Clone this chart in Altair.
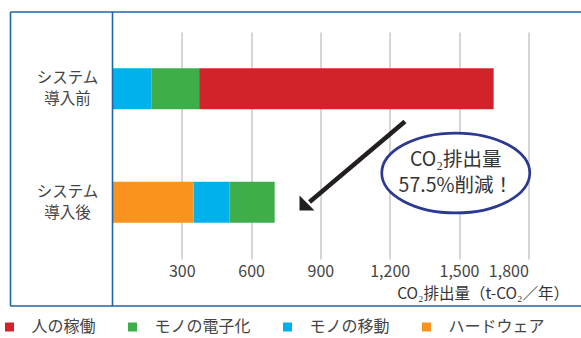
import altair as alt
import pandas as pd

categories = ["システム\n導入前", "システム\n導入後"]
components = ["人の稼働", "モノの電子化", "モノの移動", "ハードウェア"]
colors = ["#d2232a", "#3dae4a", "#00b1eb", "#f7931e"]
stack_rank = [3, 2, 1, 0]
before = [1275, 207, 168, 0]
after = [0, 195, 156, 351]
tick_values = [300, 600, 900, 1200, 1500, 1800]
callout_lines = ["CO₂排出量", "57.5%削減！"]

rows = []
for cat, vals in zip(categories, [before, after]):
    for comp, v, r in zip(components, vals, stack_rank):
        if v > 0:
            rows.append(dict(cat=cat, comp=comp, value=v, rank=r))
df = pd.DataFrame(rows)

FONT = "Noto Sans CJK JP"
W, H = 415.8, 227
FRAME = "#1f63a8"

x_scale = alt.Scale(domain=[0, 1800], nice=False, zero=True)
y_scale = alt.Scale(domain=categories, paddingInner=0.64, paddingOuter=0.32)

bars = alt.Chart(df).mark_bar().encode(
    x=alt.X(
        "value:Q", stack="zero", scale=x_scale,
        axis=alt.Axis(
            values=tick_values, format=",d", title="CO₂排出量（t-CO₂／年）",
            grid=True, gridColor="#c8c8c8", gridWidth=1.5,
            domain=False, ticks=False, tickSize=0,
            labelFontSize=16, labelColor="#444", labelFont=FONT,
            labelBaseline="middle", labelPadding=12,
            titleX=456, titleY=34, titleAlign="right", titleBaseline="middle",
            titleFontSize=15.5, titleFontWeight="normal", titleColor="#333", titleFont=FONT,
        ),
    ),
    y=alt.Y(
        "cat:N", scale=y_scale, title=None,
        axis=alt.Axis(
            labelExpr="split(datum.label, '\\n')", labelAlign="center",
            labelBaseline="middle", labelPadding=45.5, labelLineHeight=21,
            labelOffset=-10.5,
            labelFontSize=15.5, labelColor="#444", labelFont=FONT,
            domain=False, ticks=False, tickSize=0, grid=False,
        ),
    ),
    color=alt.Color(
        "comp:N", scale=alt.Scale(domain=components, range=colors),
        legend=alt.Legend(
            orient="none", legendX=-111, legendY=287, direction="horizontal",
            title=None, symbolType="square", symbolSize=81, symbolStrokeWidth=0,
            labelFontSize=16, labelColor="#444", labelFont=FONT, labelOffset=14,
            columnPadding=28, padding=0,
        ),
    ),
    order=alt.Order("rank:Q"),
)

one = pd.DataFrame({"a": [0]})

ellipse_path = ("M 1 0 C 1 0.2982 0.5523 0.54 0 0.54 C -0.5523 0.54 -1 0.2982 -1 0 "
                "C -1 -0.2982 -0.5523 -0.54 0 -0.54 C 0.5523 -0.54 1 -0.2982 1 0 Z")
ellipse = alt.Chart(pd.DataFrame({"x": [1486]})).mark_point(
    shape=ellipse_path, size=148 * 148, filled=True, fill="white", fillOpacity=1,
    stroke="#2b3990", strokeWidth=2.7, strokeOpacity=1, opacity=1,
).encode(x=alt.X("x:Q", scale=x_scale), y=alt.value(141))

text_df = pd.DataFrame({"x": [1486], "t": ["\n".join(callout_lines)], "py": [128.3]})
callout = alt.Chart(text_df).mark_text(
    font=FONT, fontSize=19.5, color="#333", align="center", baseline="middle",
    lineBreak="\n", lineHeight=26,
).encode(x=alt.X("x:Q", scale=x_scale), y=alt.Y("py:Q", scale=None), text="t:N")

shaft = alt.Chart(pd.DataFrame({"x": [1266], "x2": [853]})).mark_rule(
    color="#231f20", strokeWidth=4.5, strokeCap="butt"
).encode(x=alt.X("x:Q", scale=x_scale), x2="x2:Q", y=alt.value(89.5), y2=alt.value(170))

head = alt.Chart(pd.DataFrame({"x": [842]})).mark_point(
    shape="M -1 -1 L -1 1 L 1 1 Z", size=225, filled=True, color="#231f20", opacity=1
).encode(x=alt.X("x:Q", scale=x_scale), y=alt.value(171))

def frame_rule(**enc):
    return alt.Chart(one).mark_rule(color=FRAME, strokeWidth=1.6).encode(**enc)

frame = alt.layer(
    frame_rule(x=alt.value(-102), x2=alt.value(468.5), y=alt.value(-20)),
    frame_rule(x=alt.value(-102), x2=alt.value(468.5), y=alt.value(274)),
    frame_rule(x=alt.value(-102), y=alt.value(-20), y2=alt.value(274)),
    frame_rule(x=alt.value(0), y=alt.value(-20), y2=alt.value(274)),
)

chart = alt.layer(bars, shaft, head, ellipse, callout, frame).properties(
    width=W, height=H,
    padding={"left": 112.5, "top": 32, "right": 52.7, "bottom": 79},
    autosize=alt.AutoSizeParams(type="none"),
    background="white",
).configure_view(strokeWidth=0)

chart.save("out.html", embed_options={"renderer": "svg", "actions": False})
